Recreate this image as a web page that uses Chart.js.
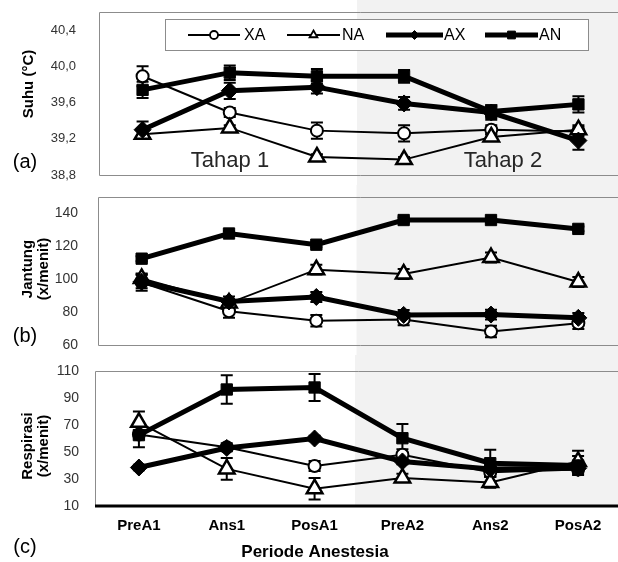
<!DOCTYPE html>
<html>
<head>
<meta charset="utf-8">
<script src="https://cdn.jsdelivr.net/npm/chart.js@4.4.1/dist/chart.umd.min.js"></script>
<style>
  body { margin: 0; background: #fff; }
  #wrap { position: relative; width: 618px; height: 562px; overflow: hidden; }
  #wrap canvas { position: absolute; left: 0; }
</style>
</head>
<body>
<div id="wrap">
  <canvas id="suhu" width="622" height="185" style="top:0px"></canvas>
  <canvas id="jantung" width="622" height="170" style="top:185px"></canvas>
  <canvas id="resp" width="622" height="207" style="top:355px"></canvas>
</div>
<script>
const periods = ["PreA1", "Ans1", "PosA1", "PreA2", "Ans2", "PosA2"];
const seriesNames = ["XA", "NA", "AX", "AN"];

// (a) suhu
const suhuXA = [39.89, 39.49, 39.29, 39.26, 39.30, 39.28];
const suhuNA = [39.25, 39.32, 39.00, 38.97, 39.22, 39.30];
const suhuAX = [39.30, 39.73, 39.77, 39.59, 39.49, 39.18];
const suhuAN = [39.74, 39.93, 39.89, 39.89, 39.50, 39.58];
const suhuXAsd = [0.11, 0.05, 0.09, 0.09, 0.05, 0.05];
const suhuNAsd = [0.03, 0.03, 0.03, 0.03, 0.03, 0.05];
const suhuAXsd = [0.09, 0.09, 0.07, 0.07, 0.08, 0.10];
const suhuANsd = [0.09, 0.08, 0.08, 0.07, 0.07, 0.09];
const suhuTicks = [38.8, 39.2, 39.6, 40.0, 40.4];

// (b) jantung
const jantungXA = [98, 80.5, 74.8, 75.5, 68.2, 73.2];
const jantungNA = [100.5, 85.5, 105.8, 103.2, 113.2, 98.3];
const jantungAX = [98.5, 86.5, 89.2, 78.3, 78.5, 76.5];
const jantungAN = [112.5, 127.8, 121, 136, 136, 130.6];
const jantungXAsd = [5, 4, 3.5, 3.5, 3.5, 3.5];
const jantungNAsd = [3, 2, 3, 3, 3, 3];
const jantungAXsd = [4, 3, 3, 3, 3, 3];
const jantungANsd = [1.5, 1.5, 1.5, 1.5, 1.5, 1.5];
const jantungTicks = [60, 80, 100, 120, 140];

// (c) respirasi
const respXA = [63, 53.5, 39.6, 48, 35, 37];
const respNA = [72, 37.5, 22.8, 30.8, 27.5, 43];
const respAX = [38.5, 53, 60, 43, 37.5, 38];
const respAN = [62.5, 96.3, 97.8, 60.2, 41.7, 40];
const respXAsd = [3, 3, 3.7, 4, 3, 3];
const respNAsd = [8, 8, 8, 3, 4, 8];
const respAXsd = [2, 2, 2, 2, 2, 2];
const respANsd = [9, 10.5, 10, 10.5, 10, 7];
const respTicks = [10, 30, 50, 70, 90, 110];

const FONT = "'Liberation Sans', Arial, sans-serif";

const styles = {
  XA: { width: 2, point: "circle", r: 6, bw: 2, fill: "#fff", order: 3, legendR: 4 },
  NA: { width: 2, point: "triangle", r: 9, bw: 2.5, fill: "#fff", order: 2, legendR: 4.5 },
  AX: { width: 5, point: "rectRot", r: 8.5, bw: 1, fill: "#000", order: 1, legendR: 4.5 },
  AN: { width: 5, point: "rect", r: 8, bw: 1, fill: "#000", order: 0, legendR: 5.5 },
};

function buildSets(values, errors) {
  return seriesNames.map((name, i) => {
    const st = styles[name];
    return {
      label: name,
      data: values[i],
      errors: errors[i],
      borderColor: "#000",
      borderWidth: st.width,
      pointStyle: st.point,
      pointRadius: st.r,
      pointBorderWidth: st.bw,
      pointBackgroundColor: st.fill,
      pointBorderColor: "#000",
      tension: 0,
      order: st.order,
    };
  });
}

function drawText(ctx, t) {
  ctx.save();
  ctx.font = t.font;
  ctx.fillStyle = t.color || "#000";
  ctx.textAlign = t.align || "center";
  ctx.textBaseline = "middle";
  ctx.translate(t.x, t.y);
  if (t.rotate) ctx.rotate(t.rotate);
  ctx.fillText(t.text, 0, 0);
  ctx.restore();
}

// shading of tahap 2, panel frame, error bars, texts, legend
const decor = {
  id: "decor",
  beforeDraw(chart, args, opts) {
    const ctx = chart.ctx, x = chart.scales.x;
    const x0 = x.getPixelForValue(opts.shadeFrom);
    const bottom = opts.shadeToArea ? chart.chartArea.bottom : chart.height;
    ctx.save();
    ctx.fillStyle = "#f2f2f2";
    ctx.fillRect(x0, 0, chart.width - x0, bottom);
    ctx.restore();
  },
  beforeDatasetsDraw(chart, args, opts) {
    const ctx = chart.ctx, a = chart.chartArea, y = chart.scales.y;
    ctx.save();
    ctx.strokeStyle = "#8c8c8c";
    ctx.lineWidth = 1;
    ctx.beginPath();
    const L = Math.round(a.left) + 0.5, T = Math.round(a.top) + 0.5, B = Math.round(a.bottom) + 0.5;
    ctx.moveTo(a.right, T); ctx.lineTo(L, T); ctx.lineTo(L, B);
    if (!opts.thickBottom) ctx.lineTo(a.right, B);
    ctx.stroke();
    if (opts.thickBottom) {
      ctx.strokeStyle = "#000";
      ctx.lineWidth = 3;
      ctx.beginPath();
      ctx.moveTo(a.left, Math.round(a.bottom));
      ctx.lineTo(a.right, Math.round(a.bottom));
      ctx.stroke();
    }
    // error bars
    ctx.strokeStyle = "#000";
    ctx.lineWidth = 2;
    chart.data.datasets.forEach((ds, i) => {
      const meta = chart.getDatasetMeta(i);
      meta.data.forEach((pt, j) => {
        const e = ds.errors[j];
        if (!e) return;
        const top = y.getPixelForValue(ds.data[j] + e);
        const bot = y.getPixelForValue(ds.data[j] - e);
        ctx.beginPath();
        ctx.moveTo(pt.x, top); ctx.lineTo(pt.x, bot);
        ctx.moveTo(pt.x - 6, top); ctx.lineTo(pt.x + 6, top);
        ctx.moveTo(pt.x - 6, bot); ctx.lineTo(pt.x + 6, bot);
        ctx.stroke();
      });
    });
    ctx.restore();
  },
  afterDraw(chart, args, opts) {
    const ctx = chart.ctx;
    (opts.texts || []).forEach(t => drawText(ctx, t));
    const lg = opts.legend;
    if (!lg) return;
    ctx.save();
    ctx.fillStyle = "#fff";
    ctx.strokeStyle = "#8c8c8c";
    ctx.lineWidth = 1;
    ctx.fillRect(lg.box[0], lg.box[1], lg.box[2], lg.box[3]);
    ctx.strokeRect(lg.box[0] + 0.5, lg.box[1] + 0.5, lg.box[2], lg.box[3]);
    chart.data.datasets.forEach((ds, i) => {
      const st = styles[ds.label];
      const [x1, x2, tx] = lg.items[i];
      const yy = lg.y;
      ctx.strokeStyle = "#000";
      ctx.lineWidth = st.width;
      ctx.beginPath();
      ctx.moveTo(x1, yy); ctx.lineTo(x2, yy);
      ctx.stroke();
      ctx.fillStyle = st.fill;
      ctx.lineWidth = st.point === "rect" || st.point === "rectRot" ? 1 : 1.8;
      Chart.helpers.drawPoint(ctx, { pointStyle: st.point, radius: st.legendR, borderWidth: ctx.lineWidth, rotation: 0 }, (x1 + x2) / 2, yy);
      drawText(ctx, { text: ds.label, x: tx, y: yy + 1, font: "16px " + FONT, align: "left", color: "#000" });
    });
    ctx.restore();
  },
};

function makeChart(id, values, errors, cfg) {
  return new Chart(document.getElementById(id), {
    type: "line",
    data: { labels: periods, datasets: buildSets(values, errors) },
    plugins: [decor],
    options: {
      responsive: false,
      animation: false,
      devicePixelRatio: 1,
      layout: { autoPadding: false, padding: { top: cfg.padTop, bottom: cfg.padBottom, left: 0, right: 0 } },
      plugins: {
        legend: { display: false },
        tooltip: { enabled: false },
        decor: cfg.decor,
      },
      scales: {
        x: {
          type: "category",
          offset: true,
          display: cfg.showX,
          grid: { display: false, drawTicks: false },
          border: { display: false },
          ticks: { padding: 11, color: "#000", font: { family: FONT, size: 15, weight: "bold" } },
          afterFit: s => { s.height = cfg.xHeight || 0; s.paddingLeft = 0; s.paddingRight = 0; },
        },
        y: {
          min: cfg.min,
          max: cfg.max,
          grid: { display: false, drawTicks: false },
          border: { display: false },
          afterBuildTicks: s => { s.ticks = cfg.ticks.map(v => ({ value: v })); },
          ticks: {
            padding: cfg.tickPad,
            color: "#333",
            font: { family: FONT, size: cfg.tickSize },
            callback: cfg.fmt,
          },
          afterFit: s => { s.width = cfg.yWidth; s.paddingTop = 0; s.paddingBottom = 0; },
        },
      },
    },
  });
}

const rot = -Math.PI / 2;

makeChart("suhu",
  [suhuXA, suhuNA, suhuAX, suhuAN],
  [suhuXAsd, suhuNAsd, suhuAXsd, suhuANsd],
  {
    padTop: 12, padBottom: 10, showX: false, yWidth: 99, tickPad: 23, tickSize: 13,
    min: 38.8, max: 40.6, ticks: suhuTicks,
    fmt: v => v.toFixed(1).replace(".", ","),
    decor: {
      shadeFrom: 2.46,
      texts: [
        { text: "Suhu (°C)", x: 29, y: 84, font: "bold 15px " + FONT, rotate: rot },
        { text: "(a)", x: 25, y: 162, font: "20px " + FONT },
        { text: "Tahap 1", x: 230, y: 161, font: "22px " + FONT, color: "#262626" },
        { text: "Tahap 2", x: 503, y: 161, font: "22px " + FONT, color: "#262626" },
      ],
      legend: {
        box: [165, 19, 423, 31], y: 35,
        items: [[188, 240, 244], [287, 340, 342], [386, 443, 444], [485, 538, 539]],
      },
    },
  });

makeChart("jantung",
  [jantungXA, jantungNA, jantungAX, jantungAN],
  [jantungXAsd, jantungNAsd, jantungAXsd, jantungANsd],
  {
    padTop: 12, padBottom: 10, showX: false, yWidth: 98, tickPad: 20, tickSize: 14,
    min: 60, max: 150, ticks: jantungTicks,
    fmt: v => String(v),
    decor: {
      shadeFrom: 2.46,
      texts: [
        { text: "Jantung", x: 28, y: 84, font: "bold 15px " + FONT, rotate: rot },
        { text: "(x/menit)", x: 44, y: 84, font: "bold 15px " + FONT, rotate: rot },
        { text: "(b)", x: 25, y: 151, font: "20px " + FONT },
      ],
    },
  });

makeChart("resp",
  [respXA, respNA, respAX, respAN],
  [respXAsd, respNAsd, respAXsd, respANsd],
  {
    padTop: 16, padBottom: 0, showX: true, xHeight: 56, yWidth: 95, tickPad: 16, tickSize: 14,
    min: 10, max: 110, ticks: respTicks,
    fmt: v => String(v),
    decor: {
      shadeFrom: 2.46, shadeToArea: true, thickBottom: true,
      texts: [
        { text: "Respirasi", x: 28, y: 91, font: "bold 15px " + FONT, rotate: rot },
        { text: "(x/menit)", x: 44, y: 91, font: "bold 15px " + FONT, rotate: rot },
        { text: "(c)", x: 25, y: 192, font: "20px " + FONT },
        { text: "Periode Anestesia", x: 315, y: 197, font: "bold 17px " + FONT },
      ],
    },
  });
</script>
</body>
</html>
